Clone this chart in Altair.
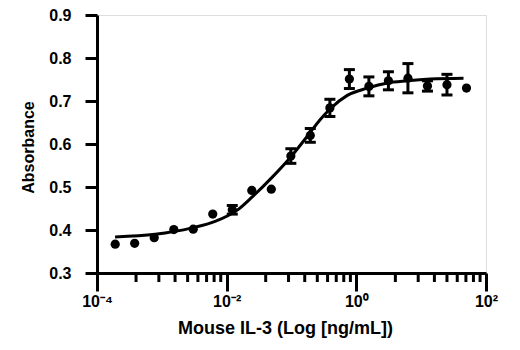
import math
import altair as alt
import pandas as pd

# Concentrations (ng/mL), 2-fold dilution series
conc = [0.000191, 0.000381, 0.000763, 0.00153, 0.00305, 0.0061, 0.0122,
        0.0244, 0.0488, 0.0977, 0.195, 0.391, 0.781, 1.5625, 3.125, 6.25,
        12.5, 25.0, 50.0]
absorbance = [0.367, 0.369, 0.382, 0.401, 0.402, 0.437, 0.447, 0.492, 0.495,
              0.572, 0.620, 0.684, 0.751, 0.734, 0.747, 0.753, 0.735, 0.738,
              0.730]
err = [0, 0, 0, 0, 0, 0, 0.010, 0, 0, 0.017, 0.016, 0.020, 0.022, 0.022,
       0.021, 0.034, 0.012, 0.024, 0]

# fitted curve
fit_x = [1.90e-4, 7.87e-4, 2.93e-3, 6.64e-3, 1.51e-2, 2.48e-2, 5.05e-2,
         0.1028, 0.1816, 0.278, 0.396, 0.726, 1.479, 3.01, 6.14, 13.9, 45.0]
fit_y = [0.384, 0.390, 0.405, 0.420, 0.448, 0.477, 0.523, 0.574, 0.621,
         0.657, 0.682, 0.713, 0.730, 0.742, 0.747, 0.751, 0.753]

x_major = [1e-4, 1e-2, 1, 100]
x_major_labels = ["10⁻⁴", "10⁻²", "10⁰", "10²"]
x_minor = [4e-4, 9e-4, 1.6e-3, 2.5e-3, 3.6e-3, 4.9e-3, 6.4e-3, 8.1e-3,
           4e-2, 9e-2, 0.16, 0.25, 0.36, 0.49, 0.64, 0.81,
           4, 9, 16, 25, 36, 49, 64, 81]
y_ticks = [0.3, 0.4, 0.5, 0.6, 0.7, 0.8, 0.9]

W, H = 389, 258
Y_MIN, Y_MAX = 0.3, 0.9
MINOR_TICK = 9  # px

df = pd.DataFrame({"conc": conc, "abs": absorbance, "err": err})
df["lo"] = df["abs"] - df["err"]
df["hi"] = df["abs"] + df["err"]
df_err = df[df["err"] > 0]
fit = pd.DataFrame({"conc": fit_x, "abs": fit_y})
minors = pd.DataFrame({"conc": x_minor})
minors["t0"] = Y_MIN
minors["t1"] = Y_MIN - MINOR_TICK * (Y_MAX - Y_MIN) / H

FONT = "Liberation Sans, Arial, Helvetica, sans-serif"
xscale = alt.Scale(type="log", domain=[1e-4, 100], nice=False)
yscale = alt.Scale(domain=[Y_MIN, Y_MAX], nice=False, zero=False)

label_expr = " : ".join(
    f"abs(log(datum.value)/LN10 - ({math.log10(v)})) < 0.01 ? '{l}'"
    for v, l in zip(x_major, x_major_labels)
) + " : ''"

x_axis = alt.Axis(values=x_major, labelExpr=label_expr, tickSize=18,
                  tickWidth=3, domainWidth=3, domainColor="black",
                  tickColor="black", labelFontSize=16, labelFont=FONT,
                  labelFontWeight="bold", labelColor="black",
                  labelPadding=2, titleFontSize=18, titleFont=FONT,
                  titleFontWeight="bold", titleColor="black",
                  titlePadding=10, titleX=188, grid=False, orient="bottom",
                  labelFlush=False)
y_axis = alt.Axis(values=y_ticks, format=".1f", tickSize=12, tickWidth=3,
                  domainWidth=3, domainColor="black", tickColor="black",
                  labelFontSize=16, labelFont=FONT, labelFontWeight="bold",
                  labelColor="black", labelPadding=14, titleFontSize=16,
                  titleFont=FONT, titleFontWeight="bold", titleColor="black",
                  titlePadding=12, titleY=132, grid=False, orient="left")
XT = "Mouse IL-3 (Log [ng/mL])"
YT = "Absorbance"


def X():
    return alt.X("conc:Q", scale=xscale, axis=x_axis, title=XT)


def Y(field):
    return alt.Y(f"{field}:Q", scale=yscale, axis=y_axis, title=YT)


points = alt.Chart(df).mark_circle(size=85, color="black", opacity=1).encode(
    x=X(), y=Y("abs"))

curve = alt.Chart(fit).mark_line(color="black", strokeWidth=3,
                                 interpolate="monotone").encode(
    x=X(), y=Y("abs"))

bars = alt.Chart(df_err).mark_rule(color="black", strokeWidth=3).encode(
    x=X(), y=Y("lo"), y2="hi:Q")
caps_lo = alt.Chart(df_err).mark_tick(color="black", size=11, thickness=3,
                                      orient="horizontal", opacity=1).encode(
    x=X(), y=Y("lo"))
caps_hi = alt.Chart(df_err).mark_tick(color="black", size=11, thickness=3,
                                      orient="horizontal", opacity=1).encode(
    x=X(), y=Y("hi"))

# short (minor) ticks of the log axis, below the axis line
minor_ticks = alt.Chart(minors).mark_rule(color="black", strokeWidth=3,
                                          clip=False).encode(
    x=X(), y=Y("t0"), y2="t1:Q")

chart = alt.layer(points, curve, bars, caps_lo, caps_hi, minor_ticks
).properties(
    width=W, height=H,
    autosize=alt.AutoSizeParams(type="none"),
    padding={"left": 97, "top": 15, "right": 34, "bottom": 77},
).configure(background="white")

chart.save("out.html", embed_options={"renderer": "svg", "actions": False})
